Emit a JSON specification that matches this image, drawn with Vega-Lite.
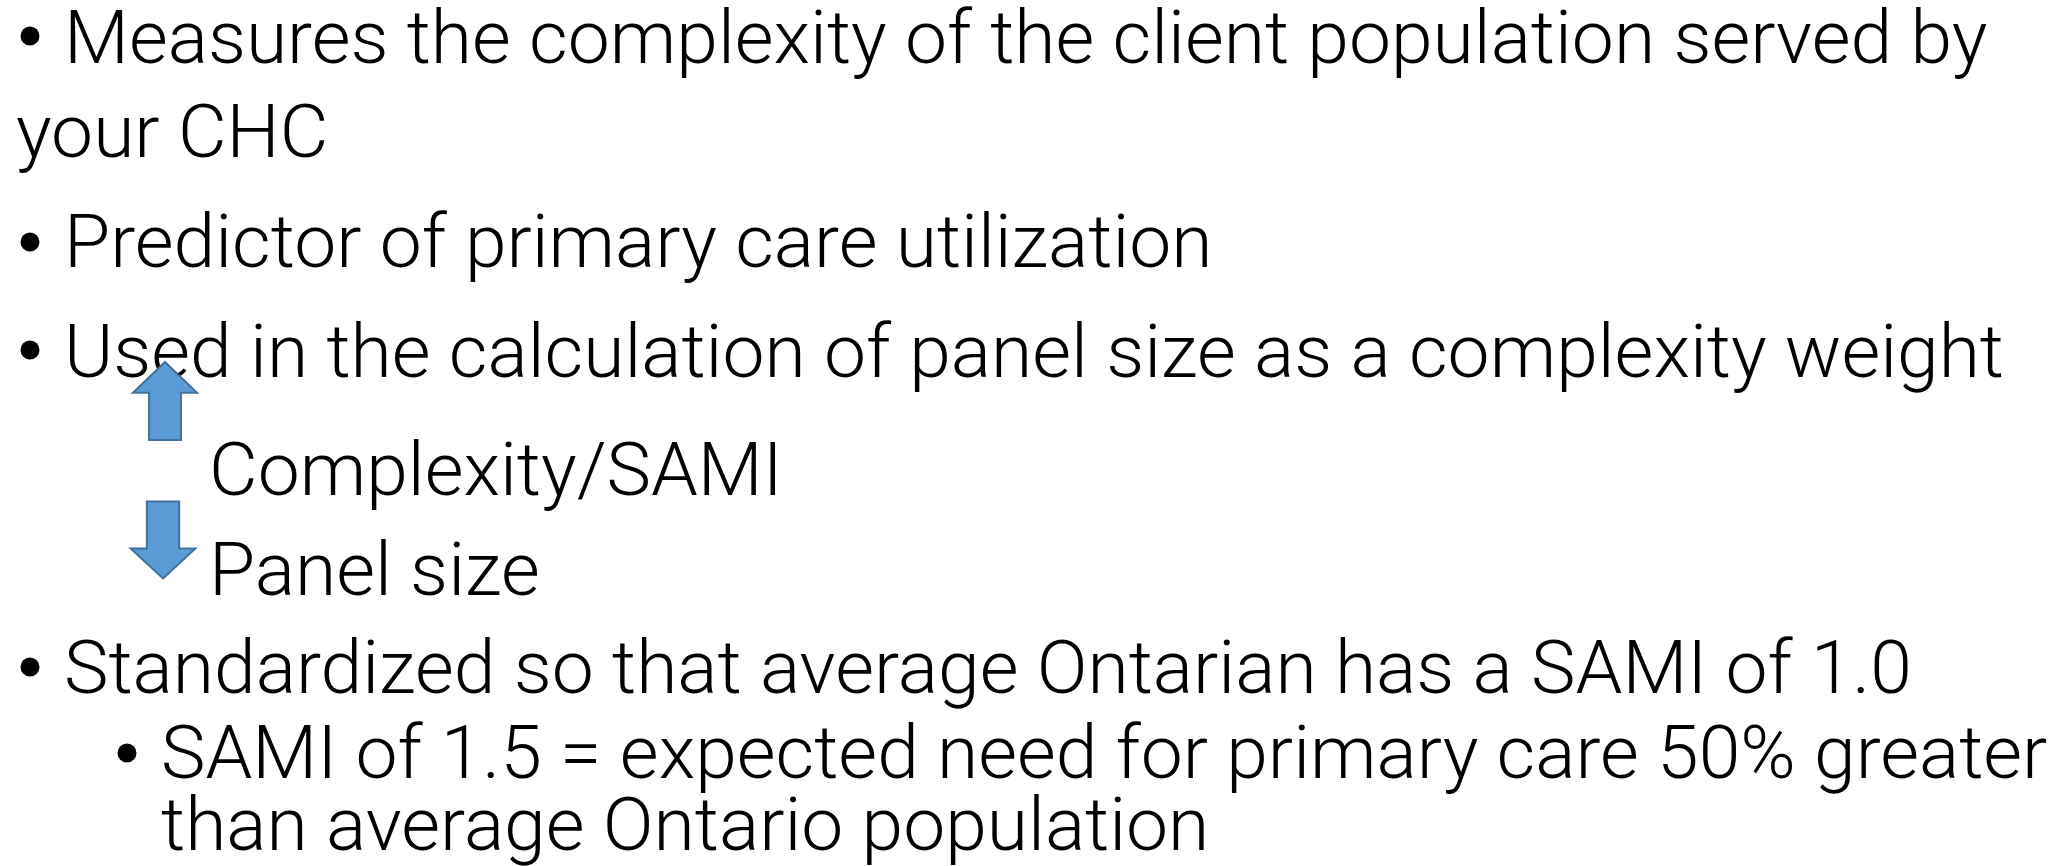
{
  "$schema": "https://vega.github.io/schema/vega-lite/v6.json",
  "width": 2072,
  "height": 866,
  "padding": 0,
  "autosize": {"type": "fit", "contains": "padding"},
  "background": "white",
  "config": {"view": {"stroke": null}},
  "datasets": {
    "lines": [
      {"x": 64, "y": 63, "text": "Measures the complexity of the client population served by"},
      {"x": 16, "y": 157, "text": "your CHC"},
      {"x": 64, "y": 267, "text": "Predictor of primary care utilization"},
      {"x": 64, "y": 377, "text": "Used in the calculation of panel size as a complexity weight"},
      {"x": 209, "y": 495, "text": "Complexity/SAMI"},
      {"x": 209, "y": 595, "text": "Panel size"},
      {"x": 64, "y": 693, "text": "Standardized so that average Ontarian has a SAMI of 1.0"},
      {"x": 161, "y": 778, "text": "SAMI of 1.5 = expected need for primary care 50% greater"},
      {"x": 161, "y": 850, "text": "than average Ontario population"}
    ],
    "bullets": [
      {"x": 30, "y": 36},
      {"x": 30, "y": 242},
      {"x": 30, "y": 350},
      {"x": 30, "y": 667},
      {"x": 127, "y": 753}
    ],
    "arrows": [
      {"x": 165, "y": 401, "direction": "up"},
      {"x": 163, "y": 540, "direction": "down"}
    ]
  },
  "layer": [
    {
      "data": {"name": "lines"},
      "mark": {"type": "text", "align": "left", "baseline": "alphabetic", "font": "Roboto", "fontWeight": 300, "fontSize": 75, "color": "#000000"},
      "encoding": {
        "x": {"field": "x", "type": "quantitative", "scale": {"domain": [0, 2072], "nice": false, "zero": false}, "axis": null},
        "y": {"field": "y", "type": "quantitative", "scale": {"domain": [0, 866], "nice": false, "zero": false, "reverse": true}, "axis": null},
        "text": {"field": "text"}
      }
    },
    {
      "data": {"name": "bullets"},
      "mark": {"type": "point", "shape": "circle", "filled": true, "size": 360, "color": "#000000", "opacity": 1},
      "encoding": {
        "x": {"field": "x", "type": "quantitative"},
        "y": {"field": "y", "type": "quantitative"}
      }
    },
    {
      "data": {"name": "arrows"},
      "transform": [{"filter": "datum.direction === 'up'"}],
      "mark": {"type": "point", "shape": "M0,-1L0.82,-0.21L0.41,-0.21L0.41,1L-0.41,1L-0.41,-0.21L-0.82,-0.21Z", "filled": true, "size": 6084, "fill": "#5B9BD5", "stroke": "#41719C", "strokeWidth": 2, "opacity": 1, "fillOpacity": 1},
      "encoding": {
        "x": {"field": "x", "type": "quantitative"},
        "y": {"field": "y", "type": "quantitative"}
      }
    },
    {
      "data": {"name": "arrows"},
      "transform": [{"filter": "datum.direction === 'down'"}],
      "mark": {"type": "point", "shape": "M0,1L0.84,0.22L0.42,0.22L0.42,-1L-0.42,-1L-0.42,0.22L-0.84,0.22Z", "filled": true, "size": 5929, "fill": "#5B9BD5", "stroke": "#41719C", "strokeWidth": 2, "opacity": 1, "fillOpacity": 1},
      "encoding": {
        "x": {"field": "x", "type": "quantitative"},
        "y": {"field": "y", "type": "quantitative"}
      }
    }
  ]
}
